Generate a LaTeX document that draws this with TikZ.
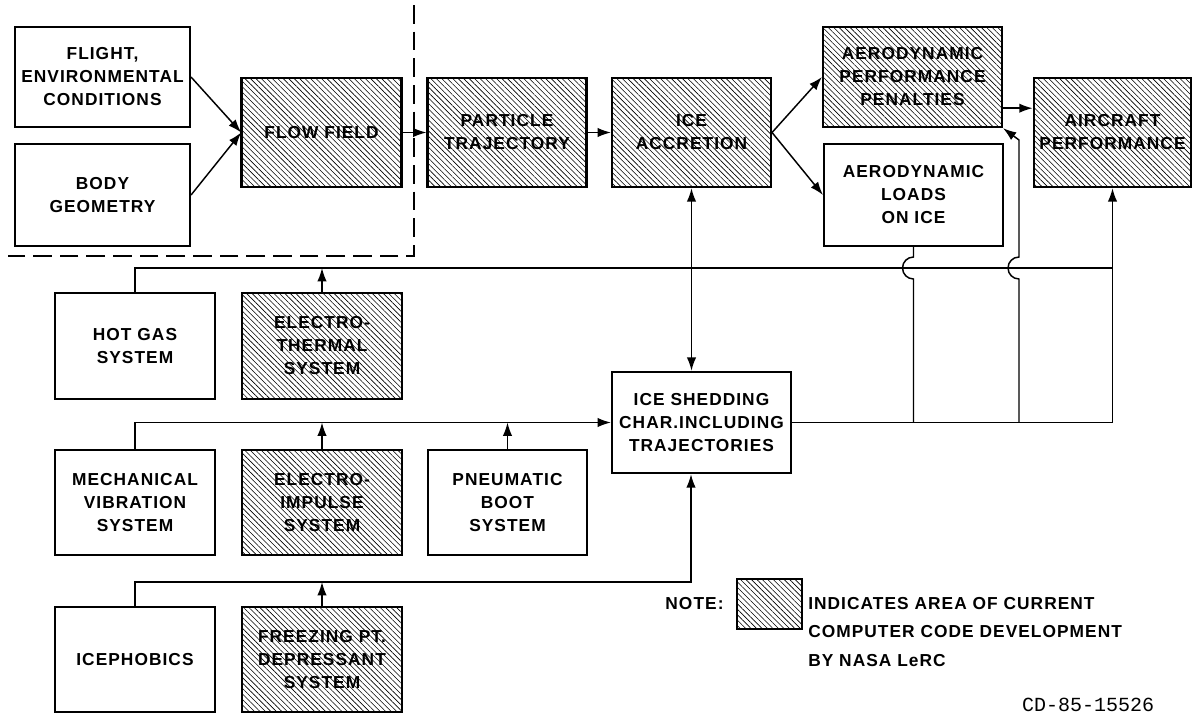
\documentclass[tikz,border=0pt]{standalone}
\usepackage{fontspec}
\setmainfont{Liberation Sans}[LetterSpace=6]
\newfontfamily\codefont{Liberation Mono}
\usetikzlibrary{arrows.meta, patterns.meta, positioning}

\tikzset{
  box/.style={draw, line width=1.8pt, align=center, inner sep=0pt,
    font=\bfseries\fontsize{13}{17.25}\selectfont},
  hatchbox/.style={box, pattern={Lines[angle=-45, distance=2.9pt, line width=0.45pt]}},
  wire/.style={line width=1.1pt},
  arr/.style={wire, -{Latex[length=10pt, width=7pt]}},
  arrs/.style={wire, {Latex[length=10pt, width=7pt]}-{Latex[length=10pt, width=7pt]}},
}

\begin{document}
\begin{tikzpicture}[x=0.75pt, y=-0.75pt]
    \useasboundingbox (0,0) rectangle (1192,714);

    % Draw nodes
    \node[box, minimum width=131pt, minimum height=75pt] (flight) at (102.5,77) {FLIGHT,\\ENVIRONMENTAL\\CONDITIONS};
    \node[box, minimum width=131pt, minimum height=76.5pt] (body) at (102.5,195) {BODY\\GEOMETRY};
    \node[hatchbox, minimum width=120pt, minimum height=81.75pt] (flow) at (321.5,132.5) {FLOW FIELD};
    \node[hatchbox, minimum width=119pt, minimum height=81.75pt] (particle) at (507,132.5) {PARTICLE\\TRAJECTORY};
    \node[hatchbox, minimum width=119pt, minimum height=81.75pt] (accretion) at (691.5,132.5) {ICE\\ACCRETION};
    \node[hatchbox, minimum width=134pt, minimum height=75pt] (penalties) at (912.5,77) {AERODYNAMIC\\PERFORMANCE\\PENALTIES};
    \node[box, minimum width=134pt, minimum height=76.5pt] (loads) at (913.5,195) {AERODYNAMIC\\LOADS\\ON ICE};
    \node[hatchbox, minimum width=118pt, minimum height=81.75pt] (aircraft) at (1112.5,132.5) {AIRCRAFT\\PERFORMANCE};

    \node[box, minimum width=120pt, minimum height=79.5pt] (hotgas) at (135,346) {HOT GAS\\SYSTEM};
    \node[hatchbox, minimum width=120pt, minimum height=79.5pt] (thermal) at (322,346) {ELECTRO-\\THERMAL\\SYSTEM};
    \node[box, minimum width=134pt, minimum height=75.75pt] (shedding) at (701.5,422.5) {ICE SHEDDING\\CHAR.INCLUDING\\TRAJECTORIES};
    \node[box, minimum width=120pt, minimum height=78.75pt] (mech) at (135,502.5) {MECHANICAL\\VIBRATION\\SYSTEM};
    \node[hatchbox, minimum width=120pt, minimum height=78.75pt] (impulse) at (322,502.5) {ELECTRO-\\IMPULSE\\SYSTEM};
    \node[box, minimum width=119pt, minimum height=78.75pt] (pneumatic) at (507.5,502.5) {PNEUMATIC\\BOOT\\SYSTEM};
    \node[box, minimum width=120pt, minimum height=78.75pt] (icephobics) at (135,659.5) {ICEPHOBICS};
    \node[hatchbox, minimum width=120pt, minimum height=78.75pt] (freezing) at (322,659.5) {FREEZING PT.\\DEPRESSANT\\SYSTEM};

    % Boundary of the flow field part
    \draw[line width=1.5pt, dash pattern=on 14pt off 6pt] (414,5) -- (414,256) -- (8,256);

    % Bus lines
    \coordinate (busA) at (0,268);
    \coordinate (busC) at (691,582);
    \coordinate (tap) at (1019,140);

    % Draw connections
    \draw[arr] (flight.east) -- (flow.west);
    \draw[arr] (body.east) -- (flow.west);
    \draw[arr] (flow.east) -- (particle.west);
    \draw[arr] (particle.east) -- (accretion.west);
    \draw[arr] (accretion.east) -- (penalties.west);
    \draw[arr] (accretion.east) -- (loads.west);
    \coordinate (pa) at ([yshift=15pt]penalties.south east);
    \draw[arr] (pa) -- (pa -| aircraft.west);
    \draw[arrs] (accretion.south) -- (accretion.south |- shedding.north);

    \draw[wire] (hotgas.north) |- (busA -| aircraft.south);
    \draw[arr] (thermal.north) -- (thermal.north |- busA);
    \draw[arr] (shedding.east) -| (aircraft.south);
    \draw[wire] (loads.south) -- ([yshift=8.25pt]loads.south |- busA)
        arc[start angle=90, end angle=270, radius=8.25pt] -- (loads.south |- shedding.east);
    \draw[arr] (tap |- shedding.east) -- ([yshift=-8.25pt]tap |- busA)
        arc[start angle=270, end angle=90, radius=8.25pt] -- (tap) -- (penalties.south east);

    \draw[arr] (mech.north) |- (shedding.west);
    \draw[arr] (impulse.north) -- (impulse.north |- shedding.west);
    \draw[arr] (pneumatic.north) -- (pneumatic.north |- shedding.west);

    \draw[arr] (icephobics.north) |- (busC) -- (busC |- shedding.south);
    \draw[arr] (freezing.north) -- (freezing.north |- busC);

    % Labels
    \node[hatchbox, minimum width=48.75pt, minimum height=37.5pt] (legend) at (769.5,604) {};
    \node[left=9pt of legend, inner sep=0pt, font=\bfseries\fontsize{13}{17}\selectfont] (note) {NOTE:};
    \node[anchor=west, align=left, inner sep=0pt, font=\bfseries\fontsize{13}{21.4}\selectfont] (legtext) at (808,632)
        {INDICATES AREA OF CURRENT\\COMPUTER CODE DEVELOPMENT\\BY NASA LeRC};
    \node[anchor=base, inner sep=0pt, font=\codefont\fontsize{15}{15}\selectfont] (code) at (1088,711) {CD-85-15526};
\end{tikzpicture}
\end{document}
